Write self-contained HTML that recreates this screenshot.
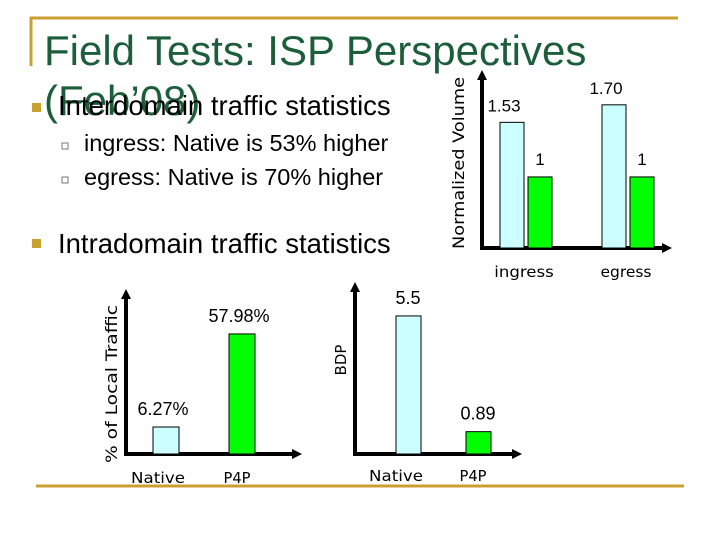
<!DOCTYPE html>
<html><head><meta charset="utf-8"><style>
body{margin:0;background:#fff;}
#slide{position:relative;width:720px;height:540px;overflow:hidden;background:#fff;font-family:"Liberation Sans",sans-serif;}
.t{position:absolute;white-space:nowrap;}
</style></head><body>
<div id="slide">
<div class="t" style="left:44px;top:27px;font-size:42px;color:#1d5e3a;">Field Tests: ISP Perspectives</div>
<div class="t" style="left:44px;top:77px;font-size:42px;color:#1d5e3a;">(Feb’08)</div>
<div class="t" style="left:58px;top:90px;font-size:27.5px;color:#000;">Interdomain traffic statistics</div>
<div class="t" style="left:84px;top:130px;font-size:23.5px;">ingress: Native is 53% higher</div>
<div class="t" style="left:84px;top:164px;font-size:23.5px;">egress: Native is 70% higher</div>
<div class="t" style="left:58px;top:228px;font-size:27.5px;">Intradomain traffic statistics</div>
<svg id="svg" width="720" height="540" style="position:absolute;left:0;top:0">
<line x1="30" y1="18" x2="678" y2="18" stroke="#c8a030" stroke-width="3"/>
<line x1="31" y1="17" x2="31" y2="66" stroke="#c8a030" stroke-width="3"/>
<line x1="36" y1="486" x2="684" y2="486" stroke="#c8a030" stroke-width="3"/>
<rect x="32" y="103" width="9" height="9" fill="#c8a030"/>
<rect x="32" y="239" width="9" height="9" fill="#c8a030"/>
<rect x="62" y="143" width="6" height="6" fill="none" stroke="#777"/>
<rect x="62" y="177" width="6" height="6" fill="none" stroke="#777"/>
</svg>
</div>
<script>
const topCategories=["ingress","egress"];
const topNative=[1.53,1.70];
const topP4P=[1,1];
const topLabelsN=["1.53","1.70"];
const topLabelsP=["1","1"];
const localCats=["Native","P4P"];
const localValues=[6.27,57.98];
const localLabels=["6.27%","57.98%"];
const bdpCats=["Native","P4P"];
const bdpValues=[5.5,0.89];
const bdpLabels=["5.5","0.89"];

const NS="http://www.w3.org/2000/svg";
const svg=document.getElementById('svg');
function mk(tag,attrs,txt){const e=document.createElementNS(NS,tag);for(const k in attrs)e.setAttribute(k,attrs[k]);if(txt!==undefined)e.textContent=txt;svg.appendChild(e);return e;}
function axes(x0,yTop,yBase,xEnd,name){
  let a=mk('line',{x1:x0,y1:yTop+8,x2:x0,y2:yBase,stroke:'#000','stroke-width':4});
  
  
  let h=mk('polygon',{points:`${x0-5},${yTop+10} ${x0+5},${yTop+10} ${x0},${yTop}`,fill:'#000'});
  
  
  let b=mk('line',{x1:x0-2,y1:yBase,x2:xEnd-8,y2:yBase,stroke:'#000','stroke-width':4});
  
  
  let h2=mk('polygon',{points:`${xEnd-10},${yBase-5} ${xEnd-10},${yBase+5} ${xEnd},${yBase}`,fill:'#000'});
  
  
}
function bar(x,w,yBase,yTop,fill,name){
  let r=mk('rect',{x:x,y:yTop,width:w,height:yBase-yTop,fill:fill,stroke:'#000','stroke-width':1});
  
  
}
function txt(x,y,s,size,font,name,anchor,len){
  const at={x:x,y:y,'font-size':size,'font-family':font,'text-anchor':anchor||'middle',fill:'#000'};
  if(len){at.textLength=len;at.lengthAdjust='spacingAndGlyphs';}
  let t=mk('text',at,s);
  
  
  return t;
}
const cfont='"DejaVu Sans",sans-serif';
const nfont='"Liberation Sans",sans-serif';
// top chart
const tBase=248;
function yTopC(v){return tBase-(v-0.31)*103;}
axes(482,70,tBase,672,'volume-chart');
const tGroupX=[500,602];
topCategories.forEach((c,i)=>{
  const gx=tGroupX[i];
  const yn=yTopC(topNative[i]), yp=yTopC(topP4P[i]);
  bar(gx,24,tBase,yn,'#ccffff','bar-'+c+'-native');
  bar(gx+28,24,tBase,yp,'#00ff00','bar-'+c+'-p4p');
  txt(gx+4,yn-11,topLabelsN[i],17,nfont,'label-'+c+'-native');
  txt(gx+40,yp-12,topLabelsP[i],17,nfont,'label-'+c+'-p4p');
  txt(gx+24,tBase+29,c,15,cfont,'x-label-'+c,'middle',c.length*8.5);
});
let yt=txt(0,0,'Normalized Volume',16,cfont,'volume-y-axis-title','middle',172);
yt.setAttribute('transform','translate(464,163) rotate(-90)');
// local traffic chart
const lBase=454;
function yLocal(v){return lBase-(15.7+v*1.80);}
axes(126,289,lBase,302,'local-chart');
const lX=[153,229];
localCats.forEach((c,i)=>{
  const y=yLocal(localValues[i]);
  bar(lX[i],26,lBase,y,i==0?'#ccffff':'#00ff00','bar-local-'+c.toLowerCase());
  txt(lX[i]+13+(i==0?-3:-3),y-12,localLabels[i],18,nfont,'label-local-'+c.toLowerCase());
  txt(lX[i]+13+(i==0?-8:-5),lBase+29,c,15,cfont,'x-label-local-'+c.toLowerCase(),'middle',c.length*9);
});
let yl=txt(0,0,'% of Local Traffic',16,cfont,'local-y-axis-title','middle',158);
yl.setAttribute('transform','translate(117,384) rotate(-90)');
// BDP chart
const bBase=454;
function yBdp(v){return bBase-v*25.1;}
axes(355,282,bBase,522,'bdp-chart');
const bX=[396,466];
bdpCats.forEach((c,i)=>{
  const y=yBdp(bdpValues[i]);
  bar(bX[i],25,bBase,y,i==0?'#ccffff':'#00ff00','bar-bdp-'+c.toLowerCase());
  txt(bX[i]+12,y-12,bdpLabels[i],18,nfont,'label-bdp-'+c.toLowerCase());
  txt(bX[i]+(i==0?0:7),bBase+27,c,15,cfont,'x-label-bdp-'+c.toLowerCase(),'middle',c.length*9);
});
let yb=txt(0,0,'BDP',15,cfont,'bdp-y-axis-title');
yb.setAttribute('transform','translate(346,360) rotate(-90)');
</script>
</body></html>
